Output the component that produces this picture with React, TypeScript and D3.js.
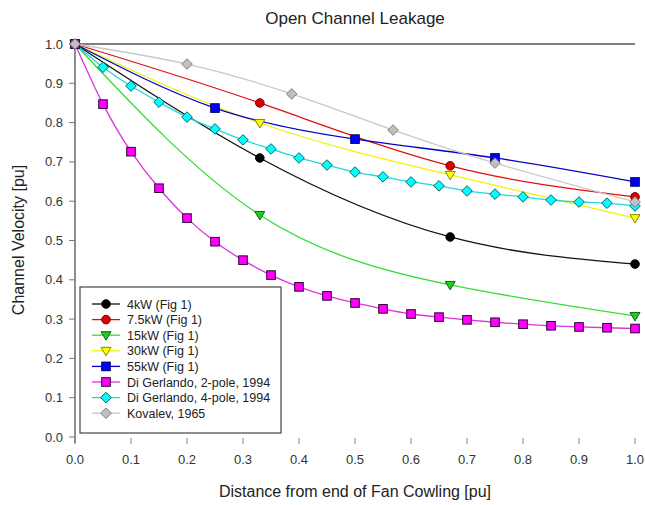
import React from "react";
import * as d3 from "d3";

const xTicks = [0, 0.1, 0.2, 0.3, 0.4, 0.5, 0.6, 0.7, 0.8, 0.9, 1.0];
const yTicks = [0, 0.1, 0.2, 0.3, 0.4, 0.5, 0.6, 0.7, 0.8, 0.9, 1.0];

const x4kW = [0, 0.33, 0.67, 1.0];
const y4kW = [1.0, 0.71, 0.509, 0.44];
const x7kW = [0, 0.33, 0.67, 1.0];
const y7kW = [1.0, 0.85, 0.69, 0.611];
const x15kW = [0, 0.33, 0.67, 1.0];
const y15kW = [1.0, 0.565, 0.387, 0.308];
const x30kW = [0, 0.33, 0.67, 1.0];
const y30kW = [1.0, 0.799, 0.667, 0.557];
const x55kW = [0, 0.25, 0.5, 0.75, 1.0];
const y55kW = [1.0, 0.837, 0.758, 0.71, 0.649];
const xDG = [0, 0.05, 0.1, 0.15, 0.2, 0.25, 0.3, 0.35, 0.4, 0.45, 0.5, 0.55, 0.6, 0.65, 0.7, 0.75, 0.8, 0.85, 0.9, 0.95, 1.0];
const yDG2 = [1.0, 0.847, 0.726, 0.633, 0.557, 0.497, 0.45, 0.412, 0.382, 0.359, 0.341, 0.326, 0.313, 0.305, 0.298, 0.292, 0.287, 0.283, 0.28, 0.278, 0.276];
const yDG4 = [1.0, 0.941, 0.893, 0.852, 0.814, 0.784, 0.756, 0.733, 0.71, 0.692, 0.674, 0.662, 0.649, 0.639, 0.626, 0.618, 0.611, 0.603, 0.598, 0.595, 0.588];
const xKov = [0, 0.2, 0.387, 0.568, 0.75, 1.0];
const yKov = [1.0, 0.949, 0.873, 0.781, 0.697, 0.598];

const seriesNames = [
  "4kW (Fig 1)",
  "7.5kW (Fig 1)",
  "15kW (Fig 1)",
  "30kW (Fig 1)",
  "55kW (Fig 1)",
  "Di Gerlando, 2-pole, 1994",
  "Di Gerlando, 4-pole, 1994",
  "Kovalev, 1965",
];

type Style = { line: string; fill: string; stroke: string; shape: string };
const styles: Style[] = [
  { line: "#111111", fill: "#000000", stroke: "#000000", shape: "circle" },
  { line: "#e01010", fill: "#e00000", stroke: "#700000", shape: "circle" },
  { line: "#33dd33", fill: "#22cc22", stroke: "#116611", shape: "tri" },
  { line: "#f2f200", fill: "#ffff00", stroke: "#888800", shape: "tri" },
  { line: "#0000c8", fill: "#0000ff", stroke: "#000066", shape: "square" },
  { line: "#dd33dd", fill: "#ff00ff", stroke: "#330033", shape: "square" },
  { line: "#22d8d8", fill: "#00ffff", stroke: "#006666", shape: "diamond" },
  { line: "#c8c8c8", fill: "#c0c0c0", stroke: "#808080", shape: "diamond" },
];

const seriesX = [x4kW, x7kW, x15kW, x30kW, x55kW, xDG, xDG, xKov];
const seriesY = [y4kW, y7kW, y15kW, y30kW, y55kW, yDG2, yDG4, yKov];

function Marker({ cx, cy, s }: { cx: number; cy: number; s: Style }) {
  if (s.shape === "circle")
    return <circle cx={cx} cy={cy} r={4.3} fill={s.fill} stroke={s.stroke} strokeWidth={1} />;
  if (s.shape === "square")
    return <rect x={cx - 4.3} y={cy - 4.3} width={8.6} height={8.6} fill={s.fill} stroke={s.stroke} strokeWidth={1} />;
  if (s.shape === "diamond")
    return (
      <path
        d={`M${cx},${cy - 5.3}L${cx + 5.3},${cy}L${cx},${cy + 5.3}L${cx - 5.3},${cy}Z`}
        fill={s.fill}
        stroke={s.stroke}
        strokeWidth={1}
      />
    );
  return (
    <path
      d={`M${cx - 5},${cy - 3.5}L${cx + 5},${cy - 3.5}L${cx},${cy + 5}Z`}
      fill={s.fill}
      stroke={s.stroke}
      strokeWidth={1}
    />
  );
}

export default function App() {
  const W = 645;
  const H = 505;
  const x = d3.scaleLinear().domain([0, 1]).range([75, 635]);
  const y = d3.scaleLinear().domain([0, 1]).range([437, 44]);
  const font = "Liberation Sans, Arial, sans-serif";

  const lineGen = d3
    .line<[number, number]>()
    .x((d) => x(d[0]))
    .y((d) => y(d[1]))
    .curve(d3.curveNatural);

  const legX = 80;
  const legY = 287;
  const legW = 201;
  const legH = 146;

  return (
    <svg
      width={W}
      height={H}
      style={{ position: "absolute", left: 0, top: 0, background: "#fff" }}
      fontFamily={font}
    >
      <rect x={0} y={0} width={W} height={H} fill="#fff" />
      <text x={355} y={24} textAnchor="middle" fontSize={17} fill="#222">
        Open Channel Leakage
      </text>

      {/* frame */}
      <line x1={75} x2={635} y1={44} y2={44} stroke="#555" strokeWidth={1.5} />
      <line x1={75} x2={75} y1={44} y2={443} stroke="#444" strokeWidth={1.2} />

      {/* y ticks */}
      {yTicks.map((t) => (
        <g key={"y" + t}>
          <line x1={69} x2={75} y1={y(t)} y2={y(t)} stroke="#777" strokeWidth={1} />
          <text x={63} y={y(t) + 4.5} textAnchor="end" fontSize={13} fill="#333">
            {t.toFixed(1)}
          </text>
        </g>
      ))}
      {/* x ticks */}
      {xTicks.map((t) => (
        <g key={"x" + t}>
          <line x1={x(t)} x2={x(t)} y1={438} y2={444} stroke="#888" strokeWidth={1} />
          <text x={x(t)} y={464} textAnchor="middle" fontSize={13} fill="#333">
            {t.toFixed(1)}
          </text>
        </g>
      ))}

      <text x={355} y={497} textAnchor="middle" fontSize={16} fill="#222">
        Distance from end of Fan Cowling [pu]
      </text>
      <text
        transform={`translate(24,240) rotate(-90)`}
        textAnchor="middle"
        fontSize={16}
        fill="#222"
      >
        Channel Velocity [pu]
      </text>

      {/* lines */}
      {seriesNames.map((n, i) => (
        <path
          key={"l" + n}
          d={lineGen(seriesX[i].map((v, j) => [v, seriesY[i][j]] as [number, number])) || ""}
          fill="none"
          stroke={styles[i].line}
          strokeWidth={1.3}
        />
      ))}
      {/* markers */}
      {seriesNames.map((n, i) => (
        <g key={"m" + n}>
          {seriesX[i].map((v, j) => (
            <Marker key={j} cx={x(v)} cy={y(seriesY[i][j])} s={styles[i]} />
          ))}
        </g>
      ))}

      {/* legend */}
      <rect x={legX} y={legY} width={legW} height={legH} fill="#fff" stroke="#444" strokeWidth={1.2} />
      {seriesNames.map((n, i) => {
        const cy = legY + 17 + i * 15.6;
        return (
          <g key={"lg" + n}>
            <line x1={92} x2={120} y1={cy} y2={cy} stroke={styles[i].line} strokeWidth={1.3} />
            <Marker cx={106} cy={cy} s={styles[i]} />
            <text x={127} y={cy + 4.5} fontSize={12.5} fill="#222">
              {n}
            </text>
          </g>
        );
      })}
    </svg>
  );
}
